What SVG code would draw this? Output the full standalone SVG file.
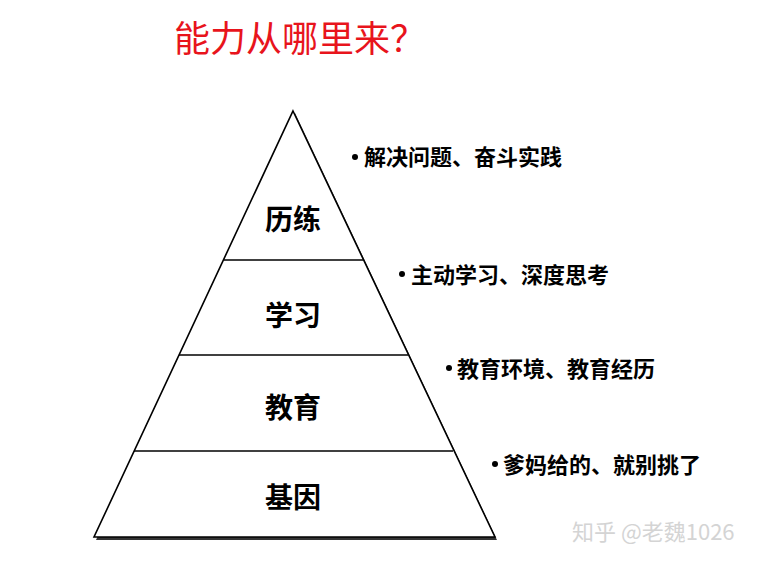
<svg xmlns="http://www.w3.org/2000/svg" width="758" height="564" viewBox="0 0 758 564">
<style>
.lbl{font-family:"Noto Sans CJK SC","Microsoft YaHei",sans-serif;font-weight:700;font-size:28px;fill:#000;text-anchor:middle}
.note{font-family:"Noto Sans CJK SC","Microsoft YaHei",sans-serif;font-weight:700;font-size:22px;fill:#000}
.ln{stroke:#000;stroke-width:1.3;fill:none}
</style>
<rect width="758" height="564" fill="#fff"/>
<text x="174" y="52" font-family="'Noto Sans CJK SC',serif" font-size="36" fill="#e8141c">能力从哪里来？</text>
<g id="pyramid">
<polygon points="295,113 497,540 96,540" fill="#333"/>
<polygon points="293,111 495,537 94,537" fill="#fff" stroke="#000" stroke-width="1.6" stroke-linejoin="miter"/>
</g>
<g id="connectors">
<line class="ln" x1="224" y1="260" x2="363" y2="260"/>
<line class="ln" x1="179" y1="355" x2="408" y2="355"/>
<line class="ln" x1="134" y1="451" x2="453" y2="451"/>
</g>
<g id="n1"><text class="lbl" x="293" y="230">历练</text></g>
<g id="n2"><text class="lbl" x="293" y="326">学习</text></g>
<g id="n3"><text class="lbl" x="293" y="418">教育</text></g>
<g id="n4"><text class="lbl" x="293" y="508">基因</text></g>
<g id="t1"><circle cx="355" cy="157" r="3"/><text class="note" x="364" y="165">解决问题、奋斗实践</text></g>
<g id="t2"><circle cx="402" cy="274" r="3"/><text class="note" x="411" y="283">主动学习、深度思考</text></g>
<g id="t3"><circle cx="449" cy="368" r="3"/><text class="note" x="457" y="377">教育环境、教育经历</text></g>
<g id="t4"><circle cx="495" cy="464" r="3"/><text class="note" x="503" y="473">爹妈给的、就别挑了</text></g>
<text x="572" y="540" font-family="'Noto Sans CJK SC',sans-serif" font-size="22" fill="#d4d4d4">知乎 @老魏1026</text>
</svg>
